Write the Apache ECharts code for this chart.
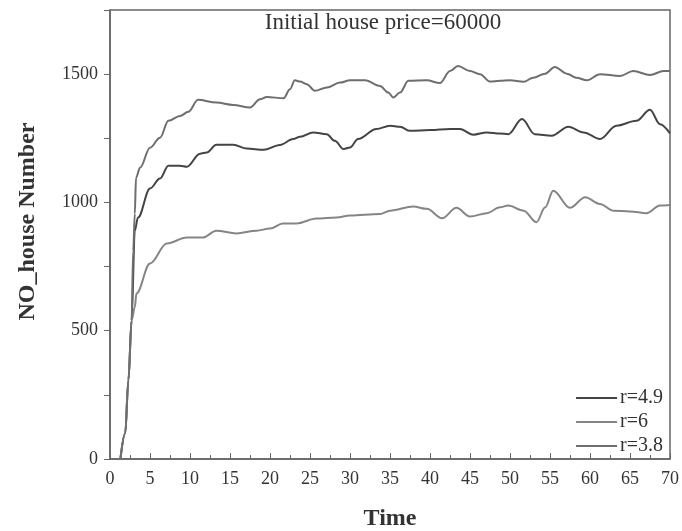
<!DOCTYPE html>
<html>
<head>
<meta charset="utf-8">
<script src="https://cdn.jsdelivr.net/npm/echarts@6/dist/echarts.min.js"></script>
<style>html,body{margin:0;padding:0;background:#fff}#c{width:682px;height:531px}</style>
</head>
<body>
<div id="c"></div>
<script>
// r=4.9 (middle curve)
var timeR49 = [1.3,1.9,2.3,2.7,3.1,3.5,5,6.25,7.3,8.75,9.6,11.25,12.1,13.3,15.4,17.1,19.2,21.25,22.9,23.75,25.4,27.1,28.1,29.2,30,31,33.3,35,36.25,37.5,40,42.5,43.75,45.4,47.1,48.75,49.8,51.5,53.1,55.2,57.3,59.2,61.25,63.3,65.8,67.5,68.75,70];
var valR49  = [0,100,307,540,890,941,1054,1093,1143,1143,1139,1190,1195,1225,1225,1210,1205,1224,1247,1256,1273,1266,1240,1208,1214,1247,1286,1299,1295,1279,1282,1286,1286,1264,1273,1269,1266,1325,1266,1260,1295,1273,1247,1299,1318,1361,1305,1269];
// r=6 (bottom curve)
var timeR6 = [1.3,1.9,2.3,2.7,3.1,3.3,5,7.1,9.6,11.6,13.3,15.8,18.3,20,21.6,23.3,25.8,28.3,30,33.75,35,37.9,39.6,41.5,43.3,45,47.1,48.75,49.8,51.7,53.3,54.4,55.4,57.5,59.4,61.25,62.9,65,67.1,68.75,70];
var valR6  = [0,100,307,540,592,645,762,840,863,863,890,879,890,898,918,918,937,941,949,955,968,984,975,938,979,945,958,981,988,968,923,981,1046,979,1020,994,968,965,958,988,990];
// r=3.8 (top curve)
var timeR38 = [1.3,1.9,2.3,2.7,2.9,3.1,3.25,3.75,5.0,6.25,7.3,8.75,9.8,11.0,13.3,15.4,17.5,18.75,19.6,21.7,22.5,23.1,23.75,24.6,25.6,27.1,28.75,30,31.9,33.75,34.8,35.4,36.25,37.3,39.6,41.25,42.5,43.5,45,46.25,47.5,48.75,50,51.7,52.9,54.4,55.6,57.1,58.3,59.6,61.25,63.75,65.4,67.5,69.2,70];
var valR38  = [0,100,307,540,812,956,1096,1135,1213,1252,1318,1337,1353,1400,1389,1380,1370,1402,1411,1406,1441,1476,1471,1461,1435,1448,1467,1476,1476,1454,1428,1409,1428,1474,1476,1465,1512,1532,1512,1500,1471,1474,1476,1470,1486,1502,1528,1502,1486,1476,1500,1493,1512,1497,1512,1512];

var seriesNames = ['r=4.9', 'r=6', 'r=3.8'];
var xTicks = [0, 70, 5];
var yTicks = [0, 1750, 500];

function pairs(t, v) { return t.map(function (x, i) { return [x, v[i]]; }); }

var serif = '"Liberation Serif", "DejaVu Serif", serif';
var chart = echarts.init(document.getElementById('c'), null, { renderer: 'canvas' });
var colors = ['#444444', '#858585', '#6e6e6e'];
var datas = [pairs(timeR49, valR49), pairs(timeR6, valR6), pairs(timeR38, valR38)];

chart.setOption({
  animation: false,
  backgroundColor: '#fff',
  title: {
    text: 'Initial house price=60000',
    left: 378, top: 6, textAlign: 'center',
    textStyle: { fontFamily: serif, fontSize: 23, fontWeight: 'normal', color: '#333' }
  },
  grid: { left: 110, right: 12, top: 10, bottom: 72, show: true, borderColor: '#666', borderWidth: 1.5, backgroundColor: 'transparent', outerBoundsMode: 'none', containLabel: false },
  legend: {
    data: seriesNames,
    orient: 'vertical',
    right: 14, top: 383,
    icon: 'rect', itemWidth: 41, itemHeight: 2, itemGap: 4,
    textStyle: { fontFamily: serif, fontSize: 20, color: '#333', padding: [0, 0, 0, -2] }
  },
  xAxis: {
    type: 'value', min: xTicks[0], max: xTicks[1], interval: xTicks[2],
    name: 'Time', nameLocation: 'middle', nameGap: 48,
    nameTextStyle: { fontFamily: serif, fontSize: 24, fontWeight: 'bold', color: '#333' },
    axisLine: { show: true, lineStyle: { color: '#666', width: 1.5 } },
    axisTick: { show: true, inside: true, length: 6, lineStyle: { color: '#666' } },
    minorTick: { show: true, splitNumber: 2, length: 4, lineStyle: { color: '#666' } },
    axisLabel: { fontFamily: serif, fontSize: 18, color: '#333', margin: 11 },
    splitLine: { show: false }
  },
  yAxis: {
    type: 'value', min: yTicks[0], max: yTicks[1], interval: yTicks[2],
    name: 'NO_house Number', nameLocation: 'middle', nameGap: 70,
    nameTextStyle: { fontFamily: serif, fontSize: 24, fontWeight: 'bold', color: '#333', padding: [0, 0, 0, 26] },
    axisLine: { show: true, lineStyle: { color: '#666', width: 1.5 } },
    axisTick: { show: true, inside: false, length: 6, lineStyle: { color: '#666' } },
    minorTick: { show: true, splitNumber: 2, length: 6, lineStyle: { color: '#666' } },
    axisLabel: { fontFamily: serif, fontSize: 18, color: '#333', margin: 12, showMaxLabel: false,
      formatter: function (v) { return String(v); } },
    splitLine: { show: false }
  },
  series: seriesNames.map(function (n, i) {
    return {
      name: n, type: 'line', data: datas[i],
      showSymbol: false, smooth: 0.35, smoothMonotone: 'x',
      lineStyle: { color: colors[i], width: 2 },
      itemStyle: { color: colors[i] }
    };
  })
});
</script>
</body>
</html>
